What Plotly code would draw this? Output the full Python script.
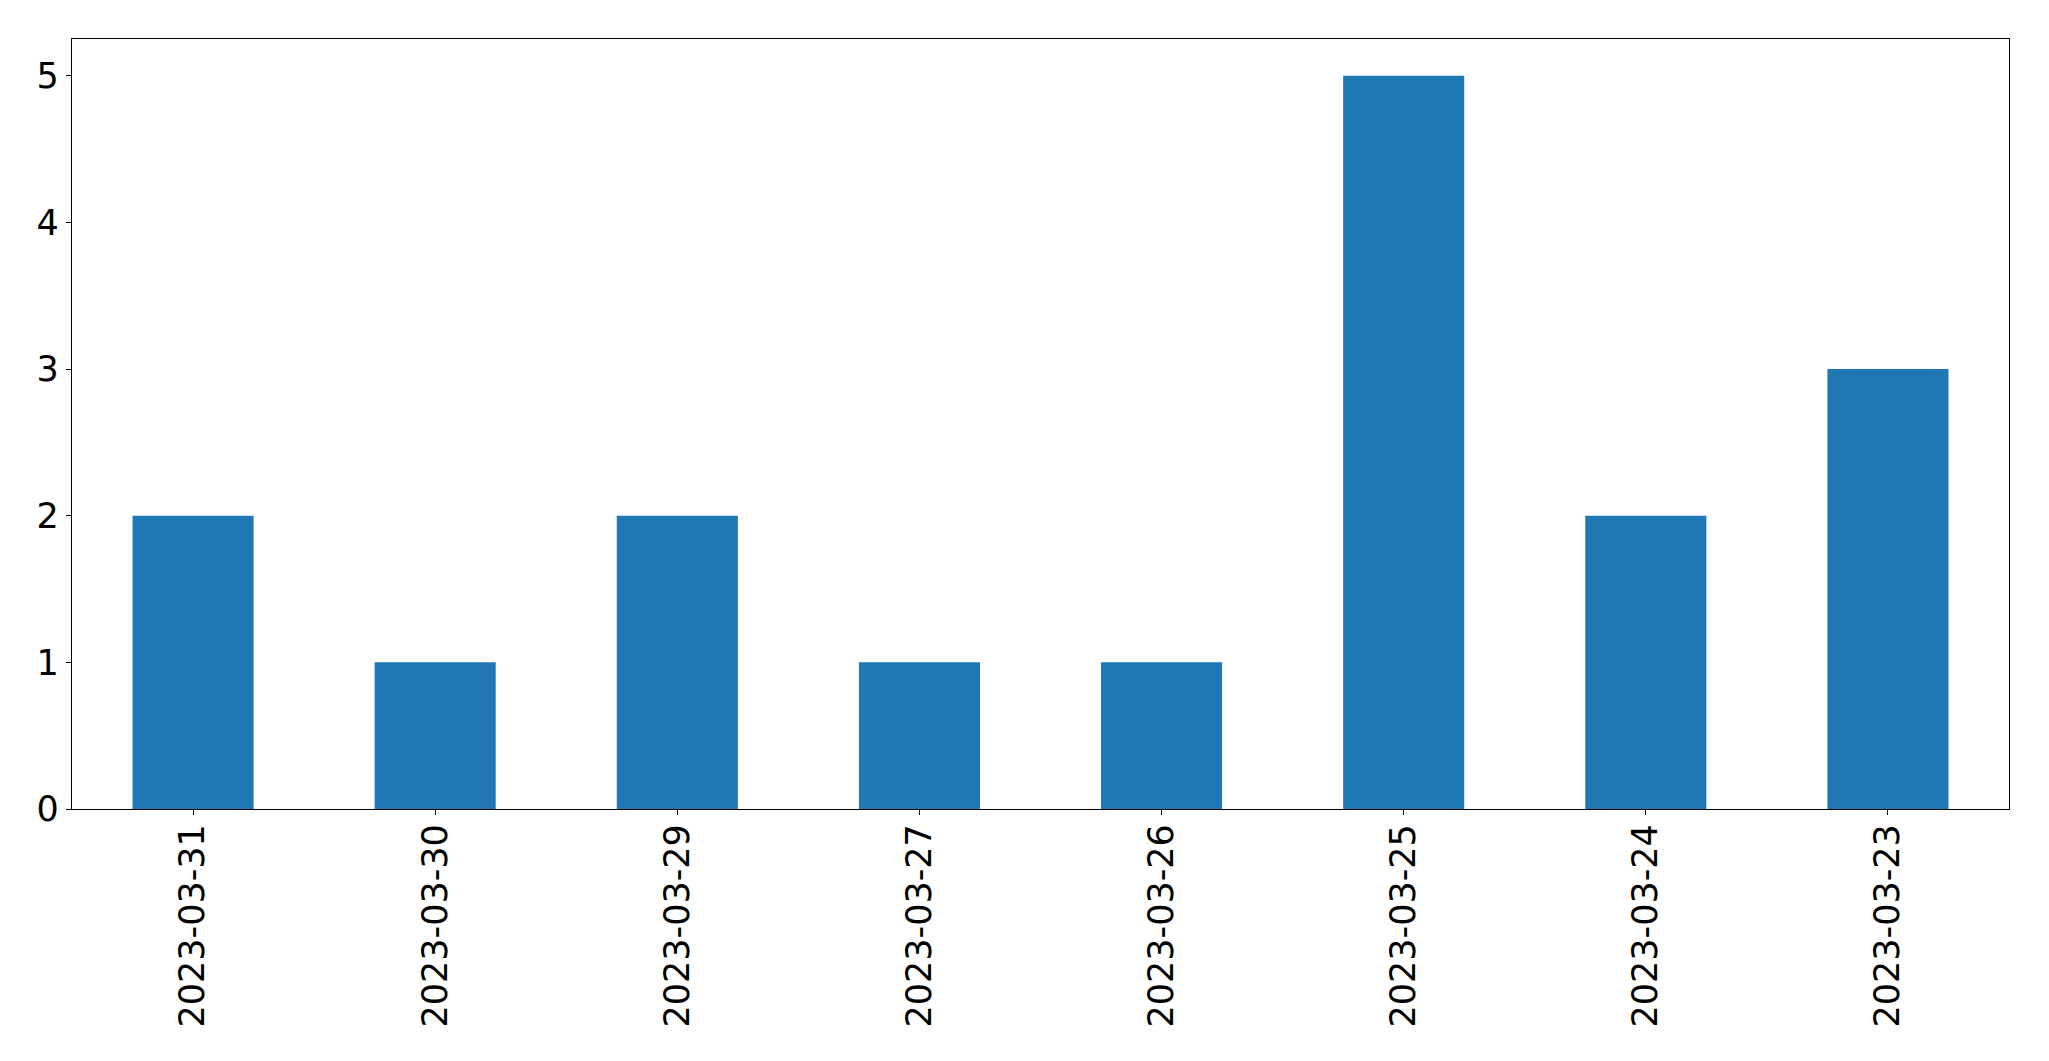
import plotly.graph_objects as go

dates = ["2023-03-31", "2023-03-30", "2023-03-29", "2023-03-27",
         "2023-03-26", "2023-03-25", "2023-03-24", "2023-03-23"]
counts = [2, 1, 2, 1, 1, 5, 2, 3]
y_ticks = [0, 1, 2, 3, 4, 5]

fig = go.Figure(go.Bar(x=dates, y=counts, marker_color="#1f77b4",
                       marker_line_width=0, width=0.5))

fig.update_layout(
    width=2041, height=1053,
    margin=dict(l=64, r=40, t=31, b=252, pad=0, autoexpand=False),
    paper_bgcolor="white", plot_bgcolor="white",
    font=dict(family="DejaVu Sans", size=35, color="black"),
    showlegend=False, bargap=0.5,
)
fig.update_xaxes(type="category", range=[-0.5, 7.5], tickangle=-90,
                 automargin=False, ticklabelstandoff=-5,
                 showline=True, linecolor="black", linewidth=1.3, mirror=True,
                 ticks="outside", ticklen=5, tickwidth=1.2, tickcolor="black",
                 showgrid=False, zeroline=False, tickfont=dict(size=35))
fig.update_yaxes(range=[0, 5.25], tickvals=y_ticks, automargin=False,
                 showline=True, linecolor="black", linewidth=1.3, mirror=True,
                 ticks="outside", ticklen=5, tickwidth=1.2, tickcolor="black",
                 showgrid=False, zeroline=False, tickfont=dict(size=35))

fig.write_html("out.html")
